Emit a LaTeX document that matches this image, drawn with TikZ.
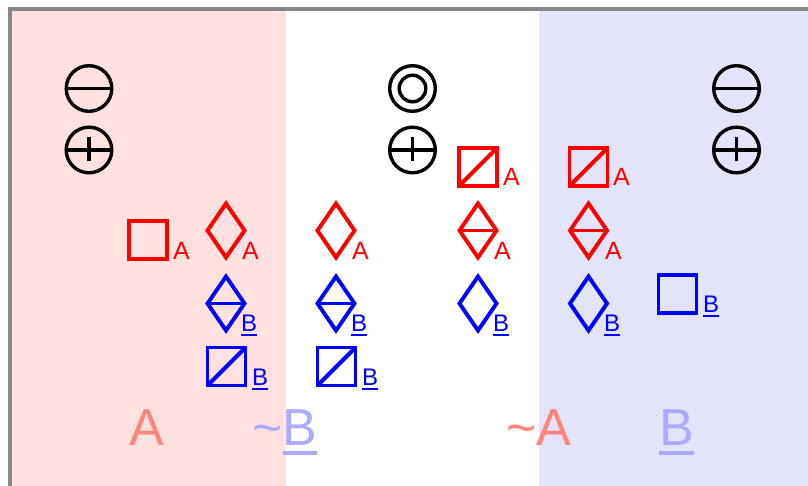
\documentclass[tikz,border=0pt]{standalone}
\usepackage{fontspec}
\setmainfont{Liberation Sans}
\definecolor{pinkbg}{RGB}{255,226,224}
\definecolor{bluebg}{RGB}{227,227,250}
\definecolor{framegray}{RGB}{136,136,136}
\definecolor{symred}{RGB}{255,0,0}
\definecolor{symblue}{RGB}{0,0,255}
\definecolor{bigred}{RGB}{255,132,122}
\definecolor{bigblue}{RGB}{172,172,255}
\newcommand\myul[1]{\setbox0=\hbox{#1}\rlap{\rule[-0.2em]{\wd0}{0.08em}}\box0}
\tikzset{
  shp/.style={line width=3.9pt, line join=miter},
  circ/.style={line width=3.4pt, black},
  lblA/.style={inner sep=0pt, anchor=base west, text=symred, font=\fontsize{25}{30}\selectfont},
  lblB/.style={inner sep=0pt, anchor=base west, text=symblue, font=\fontsize{24}{28}\selectfont},
  bigA/.style={inner sep=0pt, anchor=base west, text=bigred, font=\fontsize{52}{60}\selectfont},
  bigB/.style={inner sep=0pt, anchor=base west, text=bigblue, font=\fontsize{52}{60}\selectfont},
  sqshape/.pic={\draw[shp] (-19,-19) rectangle (19,19);},
  sqdshape/.pic={\draw[shp] (-19,-19) rectangle (19,19); \draw[shp] (-19,19) -- (19,-19);},
  diashape/.pic={\draw[shp] (0,-27) -- (18.5,0) -- (0,27) -- (-18.5,0) -- cycle;},
  diahshape/.pic={\draw[shp] (0,-27) -- (18.5,0) -- (0,27) -- (-18.5,0) -- cycle; \draw[shp] (-18.5,0) -- (18.5,0);},
  ominus/.pic={\draw[circ] (0,0) circle[radius=22.8]; \draw[circ] (-22.8,0) -- (22.8,0);},
  oplus/.pic={\draw[circ] (0,0) circle[radius=22.8]; \draw[circ] (-22.8,0) -- (22.8,0); \draw[circ] (0,-12.5) -- (0,11.5);},
  ocirc/.pic={\draw[circ] (0,0) circle[radius=22.8]; \draw[circ] (0,0) circle[radius=13.3];}
}
\begin{document}
\begin{tikzpicture}[x=1pt,y=-1pt]
\useasboundingbox (0,0) rectangle (808,486);
\fill[white] (0,0) rectangle (808,486);
% backgrounds
\fill[pinkbg] (11,11) rectangle (286,486);
\fill[bluebg] (539,11) rectangle (808,486);
\draw[framegray, line width=4pt] (9.5,486) -- (9.5,9.3) -- (808,9.3);
% circle symbols
\pic at (89,88.5) {ominus};
\pic at (89,150) {oplus};
\pic at (412.5,88.5) {ocirc};
\pic at (412.5,150) {oplus};
\pic at (736.5,88.5) {ominus};
\pic at (736.5,150) {oplus};
% left column (pink)
\pic[symred] at (148,240) {sqshape};
\node[lblA] (la1) at (173,259) {A};
\pic[symred] at (226,230.5) {diashape};
\node[lblA] (la2) at (242,259) {A};
\pic[symblue] at (226,303.5) {diahshape};
\node[lblB] (lb1) at (241,331) {\myul{B}};
\pic[symblue] at (226.5,366.5) {sqdshape};
\node[lblB] (lb2) at (252,385) {\myul{B}};
% middle-left column
\pic[symred] at (336,230.5) {diashape};
\node[lblA] (la3) at (352,259) {A};
\pic[symblue] at (336,303.5) {diahshape};
\node[lblB] (lb3) at (351,331) {\myul{B}};
\pic[symblue] at (336.5,366.5) {sqdshape};
\node[lblB] (lb4) at (362,385) {\myul{B}};
% column 478
\pic[symred] at (478,167) {sqdshape};
\node[lblA] (la4) at (503,186) {A};
\pic[symred] at (478,230.5) {diahshape};
\node[lblA] (la5) at (494,259) {A};
\pic[symblue] at (478,303.5) {diashape};
\node[lblB] (lb5) at (493,331) {\myul{B}};
% column 588
\pic[symred] at (588.5,167) {sqdshape};
\node[lblA] (la6) at (613,186) {A};
\pic[symred] at (588.5,230.5) {diahshape};
\node[lblA] (la7) at (605,259) {A};
\pic[symblue] at (588.5,303.5) {diashape};
\node[lblB] (lb6) at (604,331) {\myul{B}};
% right
\pic[symblue] at (677.5,294) {sqshape};
\node[lblB] (lb7) at (703,312) {\myul{B}};
% big labels
\node[bigA] (bA) at (129.5,445) {A};
\node[bigB] (bnB) at (252,445) {\textasciitilde\myul{B}};
\node[bigA] (bnA) at (506,445) {\textasciitilde A};
\node[bigB] (bB) at (659,445) {\myul{B}};
\end{tikzpicture}
\end{document}
